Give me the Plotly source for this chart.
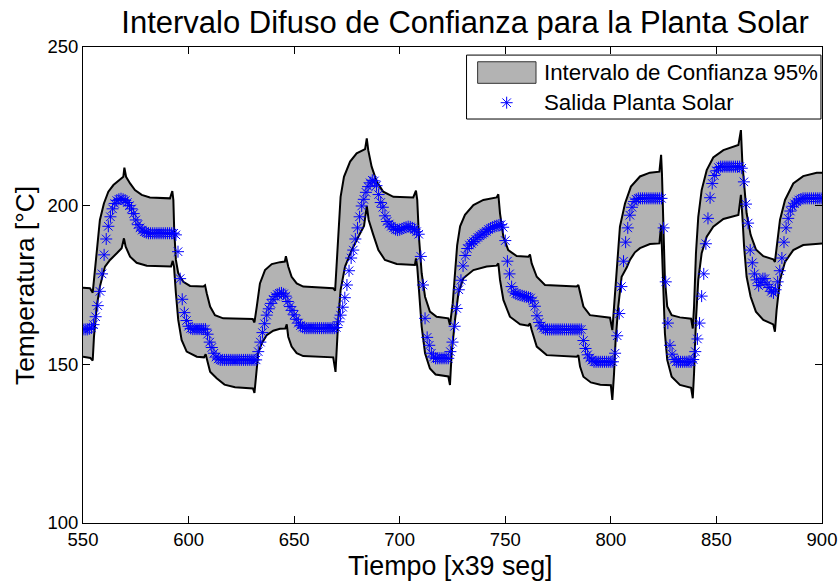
import plotly.graph_objects as go

# ---- upper limit of the fuzzy 95% confidence interval ----
upper_t = [550, 553.3, 554.6, 555.7, 556.8, 558, 559.9, 562, 564.4, 567.5, 569.1, 569.6, 570.4,
           572.3, 574.6, 577.8, 581.7, 591.2, 592.3, 592.8, 593.2, 594, 595.1, 597.5, 600.7,
           607, 607.8, 608.6, 610.2, 612.5, 616.4, 630.4, 631.2, 632.3, 633.8, 636.2, 639.4,
           643.3, 645.6, 646.1, 647.2, 648.8, 651.2, 654.3, 668.5, 669.4, 670.2, 671, 672,
           673.6, 676.5, 679.6, 683.6, 684.4, 685.1, 686.7, 689.1, 692.2, 697, 706.4, 707.7,
           708.3, 709.1, 710.4, 712, 714.3, 717.5, 723, 723.8, 725.1, 726.2, 727.2, 728.6,
           730.9, 734.9, 739.6, 745.9, 746.7, 747.5, 749.1, 751.4, 755.4, 760.9, 761.7, 762.5,
           764.9, 768.8, 783.8, 784.6, 785.4, 787, 790.1, 799.6, 800.7, 801.5, 802.8, 804.3,
           806.7, 809.5, 813.8, 818.5, 823, 823.8, 824.2, 824.8, 825.6, 826.7, 828.8, 832.7,
           838, 838.8, 839.4, 840.3, 841.4, 843, 845.4, 848.5, 853.3, 860.4, 861.6, 862.3,
           863.1, 864.3, 866.2, 868.7, 872.2, 876.9, 877.7, 878.5, 880.1, 882.5, 886.4, 891.1,
           897.5, 900]
upper_v = [174.1, 174.0, 172.6, 180.8, 189.2, 195.5, 200.7, 204.4, 206.5, 208.1, 209.1, 212.0, 209.1,
           207.0, 204.9, 203.4, 202.6, 202.3, 204.6, 201.8, 192.3, 182.9, 178.7, 176.0, 174.7,
           174.5, 174.9, 172.4, 168.2, 165.5, 164.5, 164.3, 163.2, 168.2, 175.5, 179.7, 181.6,
           182.2, 182.4, 184.1, 180.8, 177.6, 175.5, 174.5, 174.0, 173.2, 182.9, 192.3, 202.8,
           209.1, 213.9, 216.5, 217.8, 221.2, 217.5, 212.3, 207.6, 204.4, 202.8, 202.6, 204.7,
           201.8, 190.2, 178.7, 171.3, 166.6, 165.0, 164.5, 162.4, 169.2, 179.7, 187.5, 193.5,
           197.1, 200.2, 201.8, 202.6, 203.6, 197.6, 190.2, 186.0, 184.1, 183.9, 184.6, 181.8,
           177.6, 175.0, 174.5, 175.0, 172.4, 168.2, 165.5, 164.7, 160.8, 168.2, 181.8, 193.4,
           200.7, 206.0, 209.2, 210.4, 210.7, 216.0, 210.2, 192.3, 176.6, 168.2, 165.5, 164.8,
           164.4, 161.3, 168.2, 185.0, 196.5, 204.9, 211.2, 215.2, 217.5, 219.1, 223.8, 213.3,
           206.0, 197.6, 190.8, 186.2, 184.1, 183.1, 182.3, 187.1, 195.5, 201.8, 207.0, 209.3,
           210.4, 210.4]

# ---- lower limit of the fuzzy 95% confidence interval ----
lower_t = [550, 553.5, 554.6, 555.2, 556.5, 558, 560.4, 562.8, 566, 568.3, 569.4, 570.2, 572.3,
           575.4, 580.2, 591.7, 592.5, 593.1, 594, 595.1, 596.7, 599.1, 603.9, 607.3, 608.1,
           608.9, 610.2, 613.3, 617, 622, 630.5, 631.2, 632, 633, 634.6, 637, 640.1, 643.3,
           645.8, 646.5, 647.2, 648.8, 651.2, 654.3, 668.5, 669.6, 670.9, 672, 674.1, 677.3,
           680.4, 683.1, 684.4, 685.3, 687.5, 689.9, 693, 698.6, 707.2, 707.7, 708.3, 709.3,
           710.4, 712, 714.3, 717, 723, 723.8, 724.6, 726.2, 727.8, 730.1, 734.9, 741.2, 745.9,
           746.7, 747.5, 749.1, 752.2, 757, 760.9, 761.7, 762.5, 764.9, 769.6, 783.8, 784.6,
           785.4, 787, 790.5, 795, 800, 800.7, 801.5, 802.2, 803.5, 805.1, 807.5, 809.1, 811.4,
           813.8, 818.5, 823, 823.8, 824.2, 824.8, 825.6, 826.7, 828.8, 832.7, 838, 838.8,
           839.4, 840.3, 841.4, 843, 845.4, 848.5, 853.3, 860.4, 861.6, 862.3, 863.1, 864.3,
           866.2, 868.7, 872.2, 876.9, 877.7, 878.5, 880.1, 882.5, 886.4, 891.1, 897.5, 900]
lower_v = [152.4, 152.0, 151.2, 158.7, 168.2, 174.5, 180.8, 182.9, 185.0, 186.6, 189.7, 187.1, 183.9,
           182.0, 181.1, 180.8, 182.6, 180.8, 172.4, 164.0, 157.7, 154.0, 152.4, 152.2, 153.2,
           151.4, 147.7, 145.6, 143.6, 142.8, 142.4, 141.0, 147.5, 153.5, 156.6, 159.2, 160.6, 161.2,
           161.3, 162.6, 158.7, 155.6, 153.5, 152.6, 152.2, 147.6, 164.0, 173.4, 180.8, 186.0,
           190.2, 193.6, 199.9, 195.5, 190.8, 186.0, 182.9, 181.6, 181.3, 183.4, 180.8, 172.4,
           161.9, 153.5, 148.7, 146.8, 146.2, 143.5, 153.5, 164.0, 172.4, 177.1, 179.7, 180.8, 181.1,
           181.8, 176.6, 170.3, 165.0, 162.6, 162.2, 162.9, 160.8, 155.6, 152.9, 152.4, 152.9,
           149.3, 146.1, 144.3, 143.6, 143.4, 138.8, 147.0, 157.0, 168.2, 177.6, 180.5, 183.0, 185.3,
           186.6, 187.9, 188.1, 193.9, 187.1, 172.4, 159.8, 151.4, 146.1, 143.5, 142.6, 139.3,
           147.2, 164.0, 176.6, 185.0, 190.2, 193.4, 195.8, 197.1, 203.4, 196.5, 187.1, 177.6,
           171.3, 166.6, 164.0, 162.6, 160.3, 167.1, 176.6, 182.3, 186.0, 187.6, 188.1, 188.1]

# ---- measured plant output, one sample per time step from t = 550 ----
salida_t0 = 550
salida = [
    161, 161, 161, 161.2, 161.5, 162.5, 165, 168.5, 173, 178.5,
    184.5, 189.5, 193.5, 196.5, 199, 200.7, 201.6, 202, 202.2, 202,
    201.6, 201, 200, 199, 197.5, 195.5, 194, 193, 192.3, 191.8,
    191.5, 191.3, 191.3, 191.3, 191.3, 191.3, 191.3, 191.3, 191.3, 191.3,
    191.3, 191.3, 191.3, 191.3, 190.8, 185.5, 177, 170.5, 166.3, 163.8,
    162, 161.3, 161.1, 161.1, 161.1, 161.1, 161.1, 161.1, 161.1, 159.5,
    157, 155.3, 153.5, 152.3, 151.7, 151.4, 151.4, 151.4, 151.4, 151.4,
    151.4, 151.4, 151.4, 151.4, 151.4, 151.4, 151.4, 151.4, 151.4, 151.4,
    151.4, 151.4, 151.4, 154, 157, 160, 162.8, 165.5, 167.5, 169.2,
    170.5, 171.4, 172, 172.4, 172.5, 172.2, 171.5, 169.8, 168.2, 167,
    165.6, 164.2, 163, 162.2, 161.7, 161.4, 161.4, 161.4, 161.4, 161.4,
    161.4, 161.4, 161.4, 161.4, 161.4, 161.4, 161.4, 161.4, 161.4, 161.4,
    161.6, 163.4, 165.5, 168, 171, 175, 179.5, 183.5, 186, 189.5,
    193, 196.5, 199.9, 202, 204.2, 206, 207.2, 208, 207.8, 206.3,
    203.5, 201, 199.5, 196.8, 195, 194.2, 193.5, 193, 192.5, 192.3,
    192.4, 192.7, 193, 193.2, 193.4, 193.3, 193, 192.5, 191.8, 191,
    184, 175, 164.5, 158.5, 156, 153.5, 152.3, 151.9, 151.9, 151.9,
    151.9, 151.9, 151.9, 151.9, 154, 157, 162, 167.6, 173.5, 176.5,
    181, 184.3, 186.5, 187.6, 188.1, 188.7, 189.4, 190, 190.5, 191,
    191.4, 191.9, 192.5, 192.9, 193.2, 193.5, 193.7, 193.9, 194, 193.2,
    189, 182.5, 178.5, 174.5, 172.8, 172.3, 172, 171.8, 171.6, 171.4,
    171.3, 171.1, 170.9, 170, 168.3, 165.3, 163.2, 162.1, 161.4, 161,
    161, 161, 161, 161, 161, 161, 161, 161, 161, 161,
    161, 161, 161, 161, 161, 161, 161, 157.5, 155, 153,
    152, 151.3, 150.8, 150.8, 150.8, 150.8, 150.8, 150.8, 150.8, 150.8,
    150.8, 150.8, 153.5, 159, 166, 174.5, 182.5, 188.5, 193, 197,
    199.5, 201.3, 202, 202.3, 202.3, 202.3, 202.3, 202.3, 202.3, 202.3,
    202.3, 202.3, 202.3, 202.3, 202.3, 193, 176, 163, 156, 153.2,
    151.5, 150.8, 150.8, 150.8, 150.8, 150.8, 150.8, 150.8, 150.8, 151.5,
    154, 158, 163, 171.5, 178.5, 188, 196, 202.5, 207, 209.5,
    211, 212, 212.3, 212.3, 212.3, 212.3, 212.3, 212.3, 212.3, 212.3,
    212.3, 212.3, 211.8, 207.5, 200.5, 194.5, 186, 182, 178.5, 176.6,
    174.8, 175.8, 177, 177, 175.2, 174.2, 173, 172.5, 173.5, 176,
    179.5, 183.5, 188.5, 193, 196, 198.3, 199.8, 200.6, 201.2, 201.8,
    202.1, 202.3, 202.3, 202.3, 202.3, 202.3, 202.3, 202.3, 202.3, 202.3,
    202.3,
]
salida_t = list(range(salida_t0, salida_t0 + len(salida)))

x_ticks = [550, 600, 650, 700, 750, 800, 850, 900]
y_ticks = [100, 150, 200, 250]

titulo = "Intervalo Difuso de Confianza para la Planta Solar"
etiqueta_x = "Tiempo [x39 seg]"
etiqueta_y = "Temperatura [°C]"
leyenda = ["Intervalo de Confianza 95%", "Salida Planta Solar"]

GRIS = "#b3b3b3"
AZUL = "#0000ff"
FONT = "Liberation Sans, Arial, Helvetica, sans-serif"

fig = go.Figure()

# shaded band: upper limit forward, lower limit backward
fig.add_trace(go.Scatter(
    x=upper_t + lower_t[::-1], y=upper_v + lower_v[::-1],
    mode="lines", fill="toself", fillcolor=GRIS,
    line=dict(width=0), hoverinfo="skip", showlegend=False))

for tt, vv in ((upper_t, upper_v), (lower_t, lower_v)):
    fig.add_trace(go.Scatter(x=tt, y=vv, mode="lines",
                             line=dict(color="black", width=2),
                             showlegend=False))

star = dict(symbol="asterisk-open", size=10, color=AZUL,
            line=dict(color=AZUL, width=1))

fig.add_trace(go.Scatter(x=salida_t, y=salida, mode="markers",
                         marker=star, showlegend=False))

# hand-drawn legend (overlay axes span the plot area in 0..1 units)
fig.add_trace(go.Scatter(
    x=[0.5733], y=[0.883], xaxis="x2", yaxis="y2", mode="markers",
    marker=star, showlegend=False, hoverinfo="skip"))

shapes = [
    dict(type="rect", xref="paper", yref="paper", x0=0.519, x1=0.9986, y0=0.8487, y1=0.983,
         fillcolor="white", line=dict(color="black", width=1), layer="below"),
    dict(type="rect", xref="paper", yref="paper", x0=0.534, x1=0.613, y0=0.9237, y1=0.969,
         fillcolor=GRIS, line=dict(color="#333333", width=1), layer="below"),
]

annotations = [
    dict(text=leyenda[0], xref="paper", yref="paper", x=0.6207, y=0.9454,
         xanchor="left", yanchor="middle", showarrow=False,
         font=dict(size=22.3, color="black", family=FONT)),
    dict(text=leyenda[1], xref="paper", yref="paper", x=0.6207, y=0.883,
         xanchor="left", yanchor="middle", showarrow=False,
         font=dict(size=22.3, color="black", family=FONT)),
    dict(text=etiqueta_x, xref="paper", yref="paper", x=0.497, y=-0.0903,
         xanchor="center", yanchor="middle", showarrow=False,
         font=dict(size=26.8, color="black", family=FONT)),
    dict(text=etiqueta_y, xref="paper", yref="paper", x=-0.0785, y=0.5,
         xanchor="center", yanchor="middle", showarrow=False, textangle=-90,
         font=dict(size=26.3, color="black", family=FONT)),
]

axis_common = dict(showgrid=False, zeroline=False, showline=True, linecolor="black",
                   linewidth=1, ticks="inside", ticklen=7, tickcolor="black",
                   tickwidth=1, mirror="ticks", automargin=False,
                   tickfont=dict(size=18.5, color="black", family=FONT))

fig.update_layout(
    width=838, height=582, autosize=False,
    margin=dict(l=83, r=16, t=47, b=59, autoexpand=False),
    paper_bgcolor="white", plot_bgcolor="white",
    font=dict(family=FONT, color="black"),
    title=dict(text=titulo, x=0.555, xanchor="center", y=0.962, yanchor="middle",
               font=dict(size=31, color="black", family=FONT)),
    xaxis=dict(range=[550, 900], tickvals=x_ticks, **axis_common),
    yaxis=dict(range=[100, 250], tickvals=y_ticks, **axis_common),
    xaxis2=dict(range=[0, 1], overlaying="x", visible=False),
    yaxis2=dict(range=[0, 1], overlaying="y", visible=False),
    shapes=shapes, annotations=annotations,
    showlegend=False,
)

fig.write_html("out.html")
